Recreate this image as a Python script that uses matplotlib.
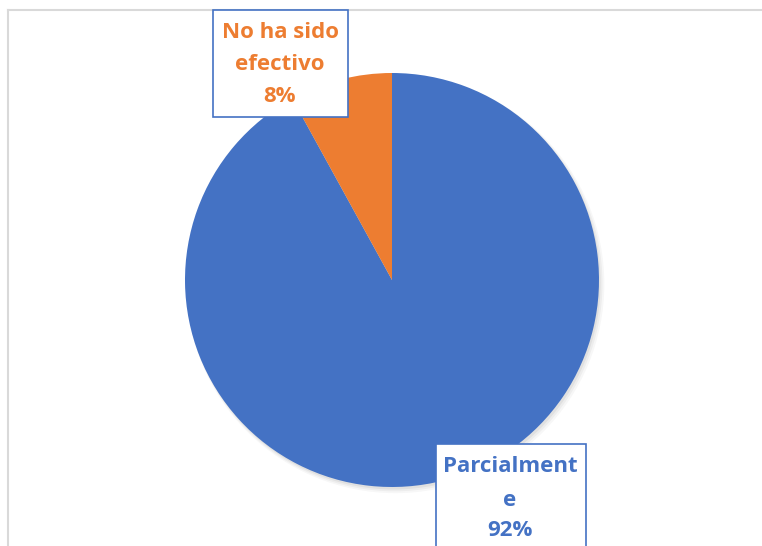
import matplotlib.pyplot as plt
from matplotlib.patches import Rectangle
from matplotlib.lines import Line2D

categories = ["Parcialment\ne", "No ha sido\nefectivo"]
values = [92, 8]
colors = ["#4472C4", "#ED7D31"]

W, H = 762, 546
fig = plt.figure(figsize=(W / 100, H / 100), dpi=100)

# chart area frame (runs off the right and bottom edges)
fig.add_artist(Line2D([8 / W, 1], [1 - 10 / H] * 2, color="#d9d9d9", lw=1.5))
fig.add_artist(Line2D([8 / W] * 2, [0, 1 - 10 / H], color="#d9d9d9", lw=1.5))

cx, cy, r = 392, 280, 207
ax = fig.add_axes([(cx - r) / W, 1 - (cy + r) / H, 2 * r / W, 2 * r / H])

# soft shadow under the pie
for i, a in enumerate([0.05, 0.04, 0.03]):
    sh = plt.Circle((0.008 + 0.004 * i, -0.012 - 0.004 * i), 1.0 + 0.005 * i,
                    color="black", alpha=a, lw=0, clip_on=False)
    ax.add_patch(sh)

ax.pie(values, colors=colors, startangle=90, counterclock=False,
       wedgeprops=dict(linewidth=0))
ax.set_xlim(-1, 1)
ax.set_ylim(-1, 1)
ax.set_aspect("equal")
ax.axis("off")

# label boxes (pixel positions)
boxes = [(436, 444, 586, 560, 510, [467, 500, 530]),
         (213, 10, 348, 117, 280, [32, 65, 97])]
for (x0, y0, x1, y1, tx, ys), cat, v, c in zip(boxes, categories, values, colors):
    fig.add_artist(Rectangle((x0 / W, 1 - y1 / H), (x1 - x0) / W, (y1 - y0) / H,
                             transform=fig.transFigure, facecolor="white",
                             edgecolor="#4472C4", lw=1.2, zorder=5))
    lines = cat.split("\n") + [f"{v}%"]
    for s, y in zip(lines, ys):
        fig.text(tx / W, 1 - y / H, s, ha="center", va="center", color=c,
                 fontsize=16, fontweight="bold", family="Open Sans", zorder=6)

fig.savefig("out.png", dpi=100)
